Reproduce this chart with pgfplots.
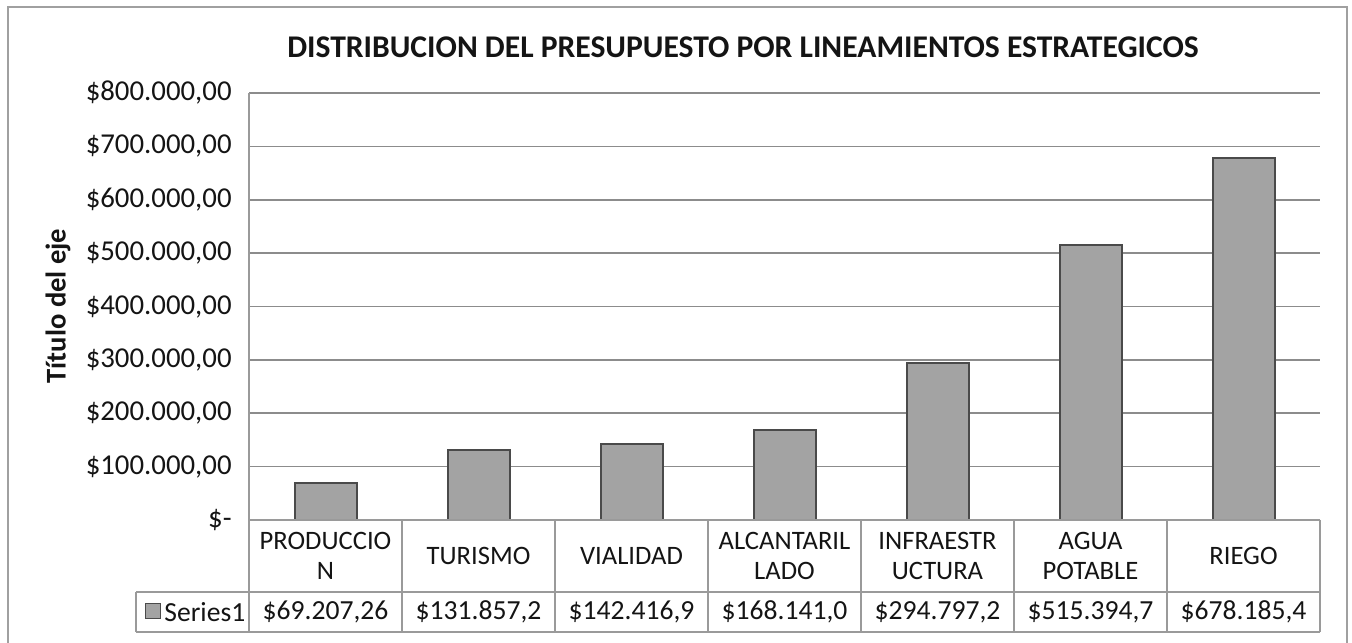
\documentclass[border=0pt]{standalone}
\usepackage{pgfplots}
\pgfplotsset{compat=1.18}
\usepackage{fontspec}
\setmainfont{Carlito}
\definecolor{barfill}{HTML}{A3A3A3}
\definecolor{baredge}{HTML}{4A4A4A}
\definecolor{gridc}{HTML}{8C8C8C}
\definecolor{tablec}{HTML}{9A9A9A}
\definecolor{framec}{HTML}{A0A0A0}
\definecolor{txt}{HTML}{141414}
\begin{document}
\begin{tikzpicture}
\useasboundingbox (0,0) rectangle (676bp,321.5bp);
% outer frame
\draw[framec, line width=0.8bp] (4bp,0) -- (4bp,318bp) -- (673.5bp,318bp) -- (673.5bp,0);
\begin{axis}[
  at={(124.5bp,61.5bp)}, anchor=south west,
  scale only axis, width=535.5bp, height=213.5bp,
  xmin=-0.5, xmax=6.5, ymin=0, ymax=800000,
  ybar, bar width=31bp,
  xtick=\empty,
  scaled y ticks=false,
  ytick={0,100000,200000,300000,400000,500000,600000,700000,800000},
  yticklabels={{\$-\hspace{6bp}},{\$100.000,00},{\$200.000,00},{\$300.000,00},{\$400.000,00},{\$500.000,00},{\$600.000,00},{\$700.000,00},{\$800.000,00}},
  yticklabel style={font=\fontsize{14.4bp}{17bp}\selectfont, text=txt, anchor=east, inner sep=0pt, xshift=-8.5bp},
  major tick length=0pt,
  ymajorgrids, grid style={gridc, line width=0.8bp},
  axis x line=none,
  axis y line*=left,
  axis line style={-, tablec, line width=0.8bp},
  clip=false,
]
\addplot[fill=barfill, draw=baredge, line width=1bp] coordinates {
 (0,69207.26) (1,131857.2) (2,142416.9) (3,168141.0) (4,294797.2) (5,515394.7) (6,678185.4)};
\end{axis}
% data table
\begin{scope}[tablec, line width=0.8bp]
\draw (124.5bp,61.5bp) -- (660bp,61.5bp);
\draw (68bp,25.5bp) -- (660bp,25.5bp);
\draw (68bp,5.5bp) -- (660bp,5.5bp);
\draw (68bp,25.5bp) -- (68bp,5.5bp);
\foreach \k in {0,...,7} { \draw (124.5bp+76.5bp*\k,61.5bp) -- (124.5bp+76.5bp*\k,5.5bp); }
\end{scope}
\draw[baredge, fill=barfill, line width=0.5bp] (72.5bp,12bp) rectangle (80bp,19.5bp);
\node[anchor=west, inner sep=0pt, text=txt, font=\fontsize{13.8bp}{16bp}\selectfont] at (82bp,15.5bp) {Series1};
\foreach \k/\lab/\val in {0/{PRODUCCIO\\N}/{\$69.207,26},1/TURISMO/{\$131.857,2},2/VIALIDAD/{\$142.416,9},3/{ALCANTARIL\\LADO}/{\$168.141,0},4/{INFRAESTR\\UCTURA}/{\$294.797,2},5/{AGUA\\POTABLE}/{\$515.394,7},6/RIEGO/{\$678.185,4}} {
  \node[align=center, text=txt, inner sep=0pt, font=\fontsize{13.3bp}{15bp}\selectfont] at (162.75bp+76.5bp*\k,43.5bp) {\lab};
  \node[text=txt, inner sep=0pt, font=\fontsize{13.8bp}{16bp}\selectfont] at (162.75bp+76.5bp*\k,15.5bp) {\val};
}
% title and axis title
\node[text=txt, font=\fontsize{15.8bp}{18bp}\selectfont\bfseries] at (371.5bp,298bp) {DISTRIBUCION DEL PRESUPUESTO POR LINEAMIENTOS ESTRATEGICOS};
\node[text=txt, rotate=90, font=\fontsize{14.3bp}{16bp}\selectfont\bfseries] at (29bp,168.5bp) {Título del eje};
\end{tikzpicture}
\end{document}
